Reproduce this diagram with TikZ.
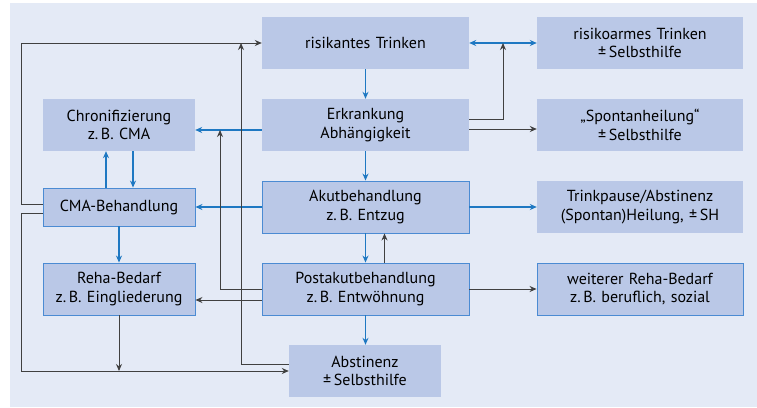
\documentclass[tikz,border=0pt]{standalone}
\usepackage{fontspec}
\setmainfont{PT Sans}
\usetikzlibrary{arrows,arrows.meta,positioning,calc}
\definecolor{panelbg}{HTML}{E4EAF6}
\definecolor{boxfill}{HTML}{BAC8E7}
\definecolor{boxline}{HTML}{4B8BD3}
\definecolor{flowblue}{HTML}{1E78C2}
\definecolor{flowgray}{HTML}{404040}

\begin{document}
\begin{tikzpicture}[
        x=1pt, y=-1pt,
        box/.style={
            rectangle,
            fill=boxfill,
            text width=197pt,
            align=center,
            font=\fontsize{16}{18.7}\selectfont,
            minimum width=207pt,
            minimum height=52pt,
            inner sep=0pt
        },
        narrowbox/.style={
            box,
            text width=148pt,
            minimum width=152pt
        },
        framed/.style={draw=boxline, line width=0.9pt},
        bluearrow/.style={-{Stealth[length=7pt,width=6pt]}, draw=flowblue, line width=1.1pt},
        grayarrow/.style={-{Stealth[length=7pt,width=6pt]}, draw=flowgray, line width=1pt},
        blueboth/.style={{Stealth[length=7pt,width=6pt]}-{Stealth[length=7pt,width=6pt]}, draw=flowblue, line width=1.1pt}
    ]
        % Background
        \useasboundingbox (0,0) rectangle (757,407);
        \fill[panelbg] (10,3) rectangle (757,407);

        % Box nodes
        \node[box] (risk) at (365.5,43) {risikantes Trinken};
        \node[box, minimum width=206pt] (lowrisk) at (640,43) {risikoarmes Trinken\\ ±\,Selbsthilfe};

        \node[narrowbox] (chron) at (119,125) {Chronifizierung\\ z.\,B. CMA};
        \node[box] (disease) at (365.5,125) {Erkrankung\\ Abhängigkeit};
        \node[box, minimum width=206pt] (spont) at (640,125) {„Spontanheilung“\\ ±\,Selbsthilfe};

        \node[narrowbox, framed, minimum height=38pt] (cma) at (119,207) {CMA-Behandlung};
        \node[box, framed] (acute) at (365.5,207) {Akutbehandlung\\ z.\,B. Entzug};
        \node[box, minimum width=206pt] (pause) at (640,207) {Trinkpause/Abstinenz\\ (Spontan)Heilung, ±\,SH};

        \node[narrowbox, framed] (rehab) at (119,289) {Reha-Bedarf\\ z.\,B. Eingliederung};
        \node[box, framed] (postacute) at (365.5,289) {Postakutbehandlung\\ z.\,B. Entwöhnung};
        \node[box, framed, minimum width=206pt] (morerehab) at (640,289) {weiterer Reha-Bedarf\\ z.\,B. beruflich, sozial};

        \node[narrowbox] (abstinence) at (365,371) {Abstinenz\\ ±\,Selbsthilfe};

        % Free ends on other lines
        \coordinate (riskmid) at ($(risk.east)!0.5!(lowrisk.west)$);
        \coordinate (chronline) at (220,130);
        \coordinate (riskline) at (241,43);
        \coordinate (bottomline) at (119,371);

        % Blue flow lines
        \draw[blueboth] (risk.east) -- (lowrisk.west);
        \draw[bluearrow] (risk.south) -- (disease.north);
        \draw[bluearrow] (disease.south) -- (acute.north);
        \draw[bluearrow] (acute.south) -- (postacute.north);
        \draw[bluearrow] (postacute.south) -- (abstinence.north -| postacute.south);
        \draw[bluearrow] ([yshift=-5pt]disease.west) -- ([yshift=-5pt]disease.west -| chron.east);
        \draw[bluearrow] ([xshift=-13pt]cma.north) -- ([xshift=-13pt]chron.south);
        \draw[bluearrow] ([xshift=14pt]chron.south) -- ([xshift=14pt]cma.north);
        \draw[bluearrow] (acute.west) -- (cma.east);
        \draw[bluearrow] (acute.east) -- (pause.west);
        \draw[bluearrow] (cma.south) -- (rehab.north);

        % Gray flow lines
        \draw[grayarrow] ([yshift=6pt]disease.east) -| (riskmid);
        \draw[grayarrow] ([yshift=-4pt]disease.east) -- ([yshift=-4pt]spont.west);
        \draw[grayarrow] ([xshift=19pt]postacute.north) -- ([xshift=19pt]acute.south);
        \draw[grayarrow] ([yshift=-11pt]postacute.west) -- ([yshift=-11pt]rehab.east);
        \draw[grayarrow] (postacute.east) -- (morerehab.west);
        \draw[grayarrow] (postacute.west) -| (chronline);
        \draw[grayarrow] ([yshift=7pt]abstinence.west) -| (riskline);
        \draw[grayarrow] ([yshift=3pt]cma.west) -- ++(-21,0) |- (risk.west);
        \draw[grayarrow] ([yshift=-6pt]cma.west) -- ++(-21,0) |- (abstinence.west);
        \draw[grayarrow] (rehab.south) -- (bottomline);

    \end{tikzpicture}
\end{document}
